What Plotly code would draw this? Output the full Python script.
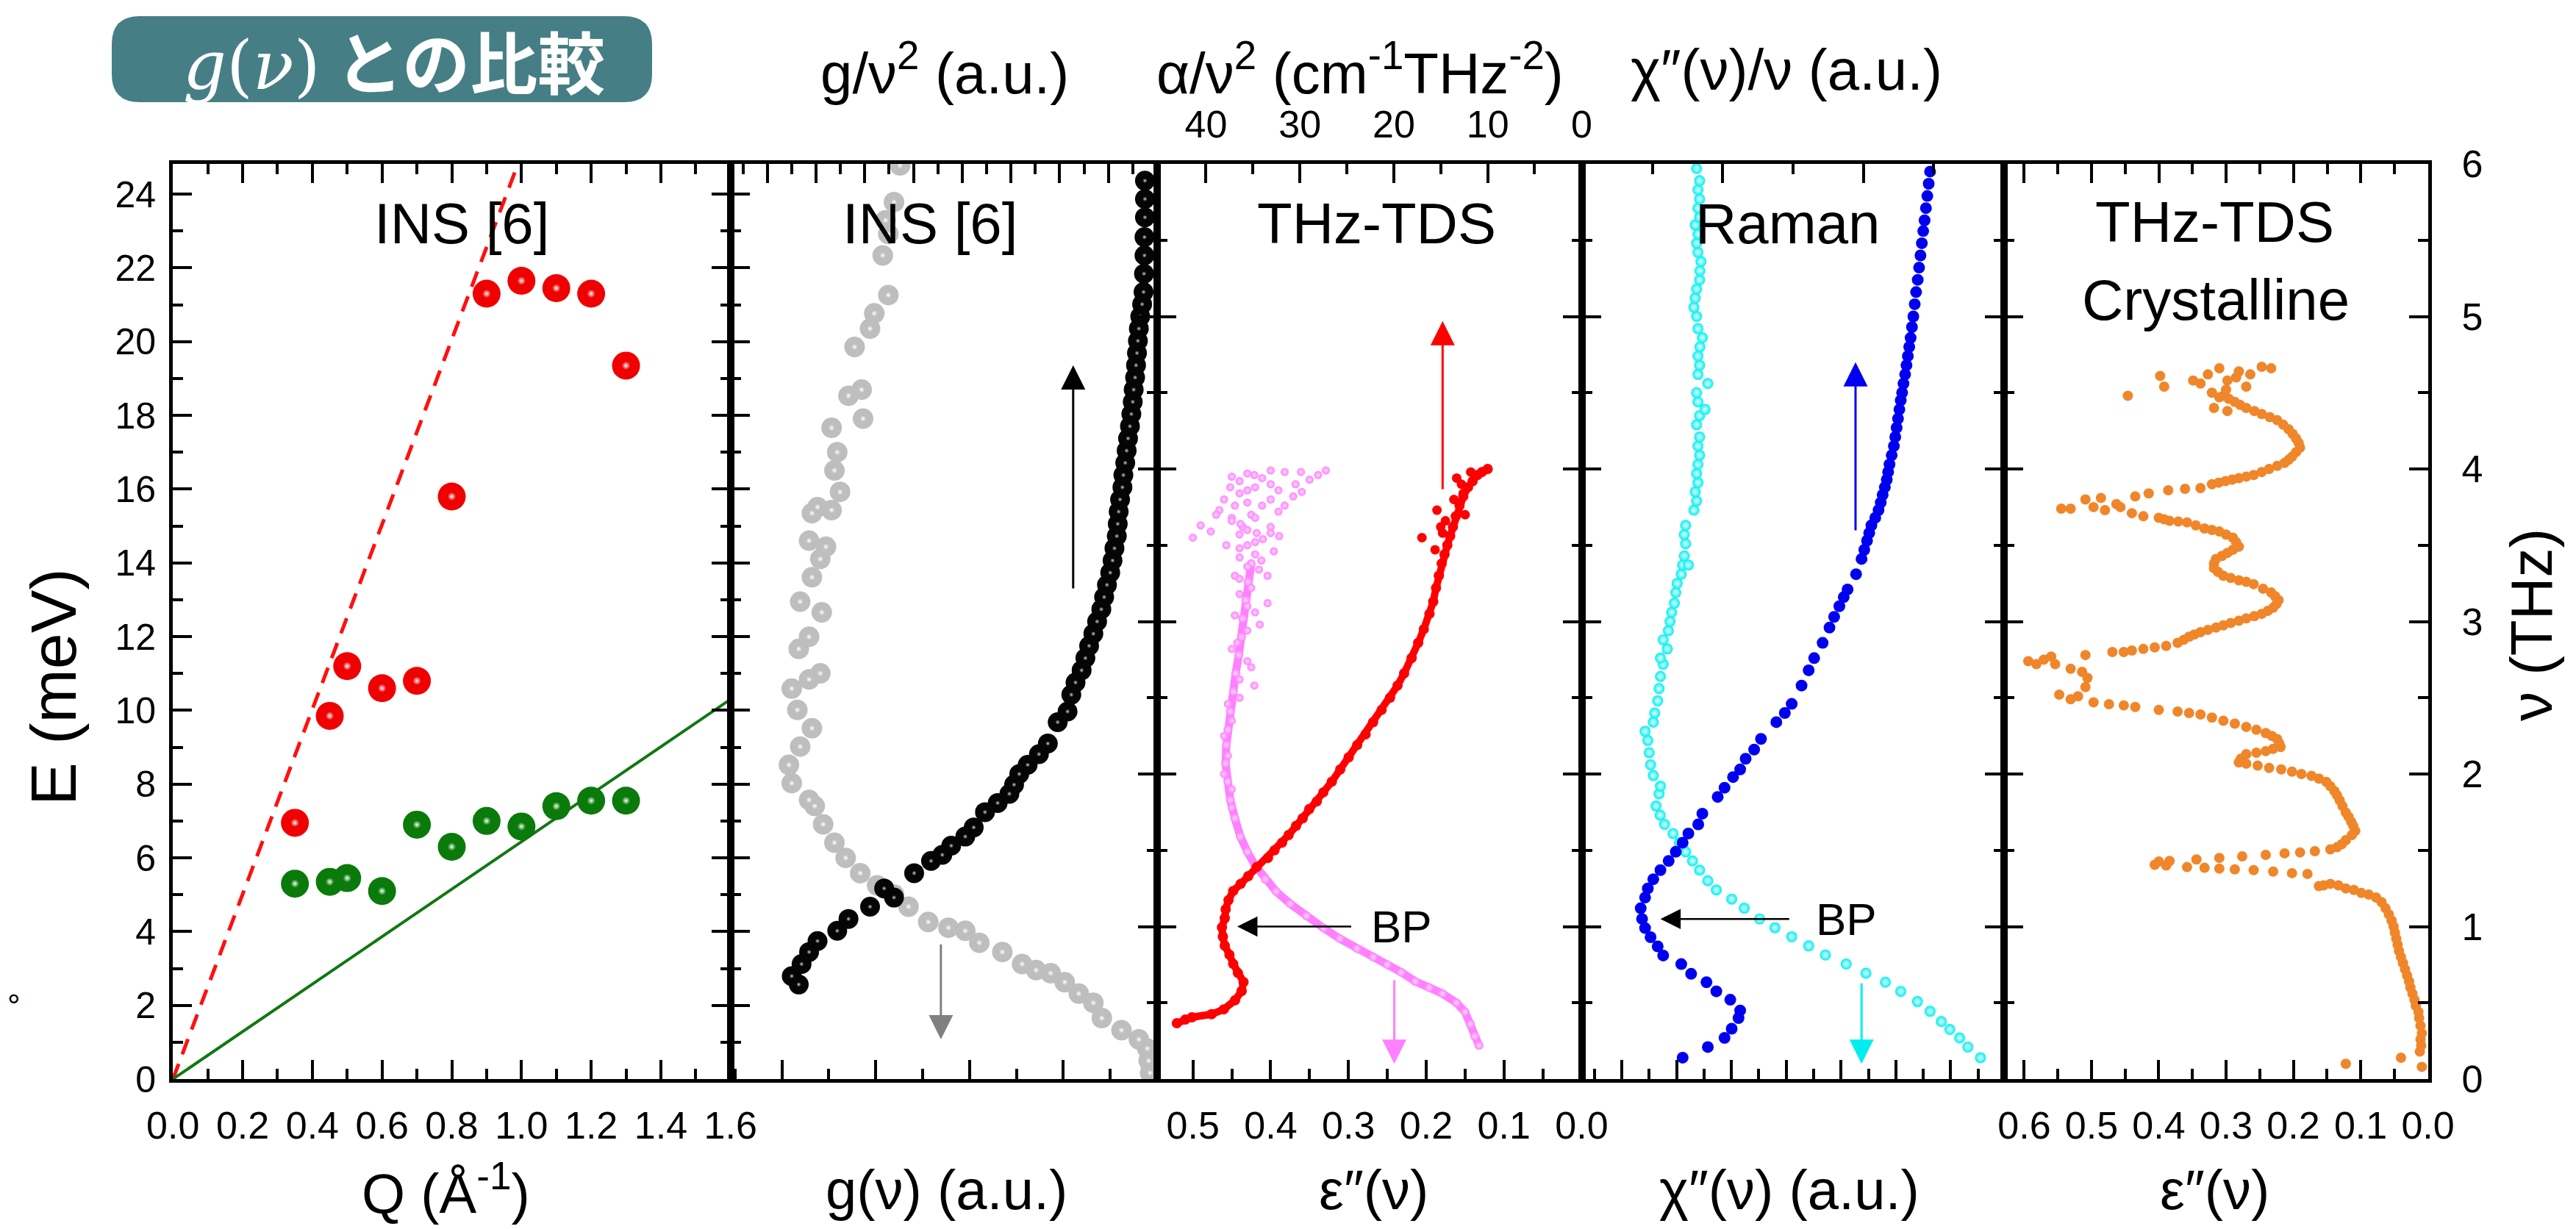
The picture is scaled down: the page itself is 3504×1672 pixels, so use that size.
import plotly.graph_objects as go

W, H = 3504, 1672
FONT = "Liberation Sans, Arial, Helvetica, sans-serif"

# ---------------- data ----------------
# Panel 1 : INS dispersion  (Q in 1/Angstrom, E in meV)
q_ins = [0.35, 0.45, 0.50, 0.60, 0.70, 0.80, 0.90, 1.00, 1.10, 1.20, 1.30]
e_high = [6.95, 9.85, 11.2, 10.6, 10.8, 15.8, 21.3, 21.65, 21.45, 21.3, 19.35]
e_low = [5.3, 5.35, 5.45, 5.1, 6.9, 6.3, 7.0, 6.85, 7.4, 7.55, 7.55]
q_long = [0.0, 0.99]
e_long = [0.0, 24.82]
q_trans = [0.0, 1.6]
e_trans = [0.0, 10.3]

# Panel 2 : INS g(nu)  (nu THz, value in axis units)
black_pts = [(0.62, 7.64), (0.675, 7.79), (0.754, 7.58), (0.833, 7.42), (0.905, 7.24), (0.972, 6.82),
             (1.05, 6.58), (1.13, 6.12), (1.19, 5.61), (1.25, 5.82), (1.35, 5.18), (1.43, 4.82),
             (1.47, 4.58), (1.53, 4.39), (1.59, 4.09), (1.65, 3.91), (1.75, 3.67), (1.81, 3.40),
             (1.87, 3.15), (1.93, 3.05), (2.00, 2.94), (2.06, 2.76), (2.13, 2.52), (2.20, 2.33),
             (2.34, 2.12), (2.41, 1.91), (2.52, 1.83), (2.60, 1.74), (2.68, 1.61), (2.76, 1.53),
             (2.84, 1.45), (2.92, 1.36), (3.00, 1.28), (3.08, 1.19), (3.16, 1.13), (3.24, 1.07),
             (3.32, 1.00), (3.40, 0.95), (3.48, 0.91), (3.56, 0.86), (3.64, 0.84), (3.72, 0.82),
             (3.80, 0.79), (3.88, 0.74), (3.96, 0.72), (4.04, 0.68), (4.12, 0.65), (4.20, 0.62),
             (4.28, 0.58), (4.36, 0.55), (4.44, 0.52), (4.52, 0.50), (4.60, 0.47), (4.68, 0.45),
             (4.76, 0.43), (4.84, 0.41), (4.92, 0.39), (5.00, 0.36), (5.08, 0.32), (5.16, 0.29),
             (5.28, 0.28), (5.40, 0.27), (5.52, 0.27), (5.65, 0.26), (5.77, 0.26), (5.89, 0.26)]
grey_pts = [(0.04, 0.15), (0.12, 0.18), (0.20, 0.21), (0.26, 0.39), (0.32, 0.76), (0.40, 1.18),
            (0.50, 1.36), (0.56, 1.67), (0.635, 1.97), (0.694, 2.27), (0.714, 2.58), (0.754, 2.88),
            (0.833, 3.30), (0.893, 3.79), (0.972, 4.09), (0.992, 4.45), (1.03, 4.88), (1.13, 5.30),
            (1.21, 5.61), (1.27, 5.97), (1.35, 6.33), (1.45, 6.64), (1.55, 6.88), (1.67, 7.12),
            (1.79, 7.30), (1.83, 7.42), (1.94, 7.79), (2.06, 7.85), (2.18, 7.61), (2.30, 7.36),
            (2.42, 7.67), (2.56, 7.79), (2.62, 7.42), (2.66, 7.18), (2.82, 7.64), (2.90, 7.42),
            (3.06, 7.15), (3.13, 7.61), (3.29, 7.36), (3.41, 7.18), (3.49, 7.06), (3.53, 7.42),
            (3.71, 7.36), (3.73, 6.94), (3.75, 7.24), (3.85, 6.76), (3.99, 6.88), (4.11, 6.82),
            (4.27, 6.94), (4.33, 6.27), (4.48, 6.58), (4.52, 6.30), (4.80, 6.45), (4.92, 6.12),
            (5.02, 6.03), (5.14, 5.73), (5.40, 5.85), (5.54, 5.73), (5.63, 5.79), (5.75, 5.61),
            (5.99, 5.48)]

# Panel 3 : THz-TDS  red = alpha/nu^2 (top axis), pink = eps'' (bottom axis)
red_pts = [(0.366, 43.1), (0.39, 42.2), (0.405, 41.5), (0.425, 39.4), (0.457, 38.1), (0.517, 36.9),
           (0.577, 36.2), (0.636, 36.0), (0.696, 36.6), (0.755, 37.1), (0.815, 37.5), (0.875, 38.0),
           (0.934, 38.2), (0.994, 38.3), (1.054, 38.0), (1.113, 37.9), (1.173, 37.6), (1.233, 37.1),
           (1.28, 36.3), (1.33, 35.5), (1.39, 34.6), (1.45, 33.4), (1.50, 32.7), (1.55, 31.9),
           (1.60, 31.2), (1.66, 30.4), (1.71, 29.7), (1.77, 29.0), (1.82, 28.2), (1.88, 27.5),
           (1.95, 26.6), (2.03, 25.7), (2.11, 24.8), (2.19, 23.9), (2.26, 23.0), (2.34, 22.2),
           (2.42, 21.3), (2.50, 20.4), (2.58, 19.6), (2.66, 18.9), (2.76, 18.1), (2.86, 17.4),
           (2.95, 16.8), (3.05, 16.2), (3.13, 15.8), (3.22, 15.5), (3.30, 15.2), (3.38, 14.9),
           (3.44, 14.6), (3.50, 14.3), (3.56, 14.0), (3.62, 13.7), (3.69, 13.4), (3.76, 13.0),
           (3.82, 12.6), (3.88, 12.1), (3.92, 11.6), (3.96, 11.1), (3.98, 10.6), (4.00, 10.0)]
red_scatter = [(3.55, 17.0), (3.73, 15.4), (3.58, 14.8), (3.98, 11.8), (3.94, 13.3), (3.66, 14.5),
               (3.84, 12.6), (3.47, 15.6), (3.70, 12.4), (3.62, 15.0), (3.80, 13.6), (3.90, 12.8)]
pink_pts = [(0.22, 0.132), (0.28, 0.1375), (0.36, 0.143), (0.44, 0.150), (0.50, 0.161), (0.56, 0.179),
            (0.60, 0.196), (0.64, 0.214), (0.70, 0.232), (0.75, 0.250), (0.80, 0.268), (0.855, 0.289),
            (0.92, 0.311), (0.99, 0.332), (1.07, 0.354), (1.15, 0.375), (1.23, 0.393), (1.31, 0.407),
            (1.40, 0.420), (1.49, 0.430), (1.59, 0.439), (1.71, 0.446), (1.83, 0.452), (1.95, 0.455),
            (2.07, 0.458), (2.19, 0.457), (2.29, 0.455), (2.41, 0.452), (2.54, 0.448), (2.66, 0.445),
            (2.78, 0.441), (2.90, 0.4375), (3.02, 0.436), (3.14, 0.432), (3.26, 0.429), (3.38, 0.425)]
pink_scatter = [(3.50, 0.430), (3.58, 0.418), (3.62, 0.436), (3.55, 0.500), (3.59, 0.477), (3.73, 0.466),
                (3.50, 0.457), (3.76, 0.446), (3.64, 0.439), (3.70, 0.425), (3.76, 0.411), (3.62, 0.400),
                (3.56, 0.389), (3.76, 0.382), (3.82, 0.371), (3.96, 0.421), (3.94, 0.411), (3.90, 0.400),
                (3.98, 0.382), (3.90, 0.368), (3.98, 0.361), (3.96, 0.339), (3.99, 0.329), (3.46, 0.396),
                (3.30, 0.446), (3.30, 0.404), (3.12, 0.404), (2.98, 0.414), (3.04, 0.446), (2.86, 0.443),
                (2.58, 0.421), (2.70, 0.425), (3.40, 0.412), (3.86, 0.430), (3.68, 0.450), (3.88, 0.452),
                (3.99, 0.400), (3.97, 0.430), (3.95, 0.450), (3.92, 0.440), (3.88, 0.420), (3.86, 0.390),
                (3.84, 0.440), (3.80, 0.460), (3.78, 0.430), (3.72, 0.390), (3.68, 0.420), (3.66, 0.450),
                (3.60, 0.430), (3.57, 0.440), (3.52, 0.420), (3.48, 0.440), (3.44, 0.420), (3.42, 0.440),
                (3.36, 0.430), (3.34, 0.415), (3.28, 0.440), (3.22, 0.425), (3.18, 0.440), (3.10, 0.430),
                (3.06, 0.420), (2.94, 0.430), (2.82, 0.450), (2.74, 0.430), (2.62, 0.440), (2.50, 0.440),
                (2.46, 0.455), (2.35, 0.450), (2.25, 0.460), (2.12, 0.455), (2.00, 0.460), (1.90, 0.450),
                (1.78, 0.450), (3.93, 0.350), (3.85, 0.360), (3.80, 0.400), (3.70, 0.470), (3.63, 0.490),
                (3.58, 0.400), (3.54, 0.410)]

# Panel 4 : Raman  blue = chi''/nu, cyan = chi''
blue_pts = [(0.14, 3.67), (0.21, 4.59), (0.27, 5.20), (0.33, 5.46), (0.40, 5.71), (0.45, 5.77),
            (0.52, 5.41), (0.575, 4.90), (0.635, 4.54), (0.69, 3.98), (0.754, 3.62), (0.81, 2.96),
            (0.87, 2.76), (0.93, 2.50), (0.99, 2.30), (1.05, 2.19), (1.12, 2.14), (1.19, 2.30),
            (1.25, 2.40), (1.31, 2.60), (1.37, 2.86), (1.43, 3.16), (1.49, 3.42), (1.55, 3.67),
            (1.61, 3.88), (1.67, 4.24), (1.74, 4.39), (1.85, 4.95), (1.91, 5.20), (1.98, 5.51),
            (2.03, 5.77), (2.10, 5.97), (2.16, 6.28), (2.23, 6.53), (2.34, 7.09), (2.40, 7.40),
            (2.46, 7.65), (2.58, 8.01), (2.68, 8.27), (2.76, 8.47), (2.86, 8.78), (2.96, 9.03),
            (3.03, 9.20), (3.10, 9.39), (3.16, 9.55), (3.21, 9.69), (3.31, 10.0), (3.41, 10.2),
            (3.47, 10.3), (3.53, 10.4), (3.58, 10.48), (3.63, 10.56), (3.68, 10.70), (3.73, 10.82),
            (3.78, 10.90), (3.83, 10.97), (3.88, 11.05), (3.93, 11.12), (3.98, 11.17), (4.03, 11.22),
            (4.09, 11.30), (4.15, 11.38), (4.21, 11.43), (4.27, 11.48), (4.33, 11.53), (4.39, 11.58),
            (4.45, 11.63), (4.50, 11.68), (4.56, 11.73), (4.62, 11.79), (4.68, 11.84), (4.74, 11.89),
            (4.80, 11.94), (4.86, 11.99), (4.93, 12.04), (5.00, 12.09), (5.08, 12.14), (5.16, 12.19),
            (5.24, 12.25), (5.32, 12.30), (5.40, 12.35), (5.48, 12.40), (5.56, 12.45), (5.63, 12.50),
            (5.71, 12.55), (5.79, 12.60), (5.87, 12.65), (5.95, 12.70)]
cyan_pts = [(0.14, 14.54), (0.21, 14.08), (0.27, 13.78), (0.325, 13.42), (0.377, 13.11), (0.444, 12.70),
            (0.508, 12.24), (0.575, 11.63), (0.635, 11.07), (0.694, 10.36), (0.754, 9.64), (0.813, 8.88),
            (0.873, 8.27), (0.933, 7.65), (0.992, 7.04), (1.05, 6.48), (1.12, 5.92), (1.18, 5.46),
            (1.24, 4.90), (1.30, 4.59), (1.37, 4.29), (1.43, 4.03), (1.49, 3.78), (1.55, 3.55),
            (1.61, 3.32), (1.67, 3.01), (1.73, 2.85), (1.79, 2.70), (1.87, 2.81), (1.92, 2.86),
            (1.99, 2.60), (2.06, 2.50), (2.14, 2.45), (2.22, 2.40), (2.28, 2.30), (2.34, 2.60),
            (2.40, 2.65), (2.48, 2.76), (2.56, 2.81), (2.64, 2.86), (2.72, 2.96), (2.76, 2.86),
            (2.82, 3.11), (2.88, 2.96), (2.94, 3.15), (3.00, 3.21), (3.06, 3.27), (3.12, 3.37),
            (3.19, 3.42), (3.25, 3.47), (3.31, 3.62), (3.37, 3.67), (3.37, 3.88), (3.43, 3.73),
            (3.51, 3.78), (3.57, 3.73), (3.63, 3.78), (3.73, 4.08), (3.79, 4.18), (3.85, 4.13),
            (3.91, 4.23), (3.97, 4.18), (4.03, 4.23), (4.09, 4.29), (4.15, 4.23), (4.21, 4.29),
            (4.29, 4.18), (4.35, 4.29), (4.39, 4.49), (4.44, 4.23), (4.50, 4.18), (4.56, 4.59),
            (4.62, 4.23), (4.68, 4.29), (4.74, 4.23), (4.80, 4.30), (4.86, 4.39), (4.92, 4.23),
            (5.00, 4.18), (5.06, 4.08), (5.12, 4.13), (5.18, 4.18), (5.24, 4.29), (5.30, 4.30),
            (5.36, 4.34), (5.42, 4.23), (5.48, 4.18), (5.54, 4.23), (5.60, 4.13), (5.65, 4.29),
            (5.71, 4.23), (5.77, 4.29), (5.83, 4.23), (5.89, 4.29), (5.97, 4.18)]

# Panel 5 : THz-TDS crystalline eps''
orange_pts = [(0.08, 0.009), (0.10, 0.122), (0.14, 0.040), (0.18, 0.012), (0.22, 0.010), (0.26, 0.011),
              (0.30, 0.009), (0.35, 0.011), (0.40, 0.013), (0.44, 0.014), (0.48, 0.018), (0.52, 0.020),
              (0.56, 0.023), (0.60, 0.026), (0.64, 0.028), (0.68, 0.031), (0.72, 0.034), (0.76, 0.037),
              (0.80, 0.040), (0.84, 0.043), (0.88, 0.045), (0.92, 0.047), (0.96, 0.049), (1.00, 0.051),
              (1.04, 0.054), (1.08, 0.058), (1.12, 0.063), (1.16, 0.069), (1.19, 0.077), (1.21, 0.088),
              (1.22, 0.099), (1.24, 0.110), (1.25, 0.122), (1.27, 0.133), (1.28, 0.145), (1.27, 0.155),
              (1.265, 0.162),
              (1.345, 0.179), (1.35, 0.202), (1.36, 0.230), (1.37, 0.259), (1.375, 0.287), (1.38, 0.310),
              (1.385, 0.332), (1.39, 0.358), (1.40, 0.389), (1.405, 0.406),
              (1.426, 0.400), (1.43, 0.384), (1.44, 0.344), (1.45, 0.310), (1.46, 0.276), (1.47, 0.241),
              (1.48, 0.213), (1.486, 0.190), (1.494, 0.168), (1.506, 0.145),
              (1.52, 0.135), (1.54, 0.128), (1.566, 0.122), (1.60, 0.113), (1.627, 0.108), (1.66, 0.111),
              (1.687, 0.114), (1.72, 0.118), (1.747, 0.122), (1.79, 0.127), (1.827, 0.131), (1.86, 0.135),
              (1.888, 0.139), (1.92, 0.145), (1.948, 0.151), (1.97, 0.162), (1.988, 0.173), (2.00, 0.188),
              (2.016, 0.202), (2.03, 0.218), (2.04, 0.236), (2.055, 0.253), (2.068, 0.270), (2.076, 0.281),
              (2.10, 0.278), (2.13, 0.270), (2.14, 0.255), (2.15, 0.241), (2.165, 0.230), (2.177, 0.219),
              (2.20, 0.221), (2.229, 0.224), (2.25, 0.232), (2.269, 0.241), (2.29, 0.255), (2.309, 0.270),
              (2.33, 0.287), (2.349, 0.304), (2.37, 0.321), (2.39, 0.338), (2.40, 0.355), (2.41, 0.372),
              (2.42, 0.400), (2.44, 0.435), (2.45, 0.452), (2.458, 0.474), (2.47, 0.497),
              (2.51, 0.520), (2.49, 0.531), (2.52, 0.548), (2.57, 0.509), (2.63, 0.506), (2.67, 0.514),
              (2.69, 0.531), (2.72, 0.554), (2.75, 0.571), (2.74, 0.594), (2.72, 0.582), (2.77, 0.560),
              (2.78, 0.509), (2.80, 0.469), (2.80, 0.452), (2.81, 0.440), (2.82, 0.423), (2.83, 0.406),
              (2.84, 0.389), (2.86, 0.372), (2.88, 0.363), (2.90, 0.355), (2.915, 0.347), (2.93, 0.338),
              (2.945, 0.327), (2.96, 0.315), (2.975, 0.304), (2.99, 0.293), (3.005, 0.281), (3.02, 0.270),
              (3.035, 0.258), (3.05, 0.247), (3.07, 0.238), (3.09, 0.230), (3.115, 0.225), (3.14, 0.222),
              (3.165, 0.227), (3.19, 0.233), (3.215, 0.245), (3.245, 0.259), (3.26, 0.270), (3.27, 0.281),
              (3.285, 0.293), (3.30, 0.304), (3.325, 0.312), (3.35, 0.318), (3.38, 0.318), (3.41, 0.315),
              (3.43, 0.306), (3.45, 0.298), (3.47, 0.290), (3.49, 0.281), (3.52, 0.285), (3.55, 0.290),
              (3.57, 0.300), (3.59, 0.310), (3.60, 0.321), (3.61, 0.332), (3.63, 0.345), (3.65, 0.358),
              (3.655, 0.371), (3.66, 0.384), (3.67, 0.392), (3.68, 0.400), (3.69, 0.423), (3.71, 0.440),
              (3.75, 0.457), (3.73, 0.480), (3.75, 0.497), (3.74, 0.531), (3.74, 0.545), (3.80, 0.509),
              (3.81, 0.486), (3.77, 0.463), (3.82, 0.435), (3.84, 0.415), (3.86, 0.386), (3.87, 0.361),
              (3.875, 0.338), (3.90, 0.321), (3.91, 0.311), (3.92, 0.301), (3.93, 0.291), (3.94, 0.281),
              (3.95, 0.270), (3.96, 0.259), (3.98, 0.247), (4.00, 0.236), (4.02, 0.224), (4.04, 0.213),
              (4.06, 0.207), (4.08, 0.202), (4.11, 0.196), (4.14, 0.190), (4.17, 0.192), (4.20, 0.196),
              (4.23, 0.201), (4.26, 0.207), (4.29, 0.215), (4.32, 0.224), (4.34, 0.235), (4.36, 0.247),
              (4.38, 0.258), (4.40, 0.270), (4.42, 0.279), (4.44, 0.287), (4.46, 0.296), (4.48, 0.304),
              (4.50, 0.321), (4.56, 0.338), (4.58, 0.349), (4.62, 0.327), (4.66, 0.310), (4.58, 0.298),
              (4.64, 0.281), (4.62, 0.264), (4.67, 0.247), (4.66, 0.233), (4.54, 0.270), (4.40, 0.318),
              (4.38, 0.298), (4.61, 0.398), (4.54, 0.392), (4.48, 0.446), (4.52, 0.300), (4.47, 0.310),
              (4.60, 0.285)]

# annotation arrows (x, tail nu, head nu)
arrow_black = (1.79, 3.21, 4.68)
arrow_grey = (4.61, 0.89, 0.26)
arrow_red = (14.8, 3.86, 4.97)
arrow_pink = (0.241, 0.656, 0.10)
arrow_blue = (9.98, 3.59, 4.70)
arrow_cyan = (10.2, 0.635, 0.10)
bp3 = (0.295, 0.443, 1.0, 0.232)   # tail x, head x, nu, text x
bp4 = (7.6, 2.86, 1.05, 9.64)

# ---------------- layout geometry ----------------
X0, X1, X2, X3, X4, X5 = 235, 994, 1574, 2152, 2726, 3303
YT, YB = 223, 1468


def fx(px):
    return px / W


def fy(py):
    return 1 - py / H


ydom = [fy(YB), fy(YT)]

fig = go.Figure()


def unzip(pts):
    return [p[1] for p in pts], [p[0] for p in pts]


def spheres(x, y, xa, ya, color, size, hl, frac=0.26):
    fig.add_trace(go.Scatter(x=x, y=y, xaxis=xa, yaxis=ya, mode='markers', hoverinfo='skip',
                             marker=dict(size=size, color=color, line=dict(width=0))))
    fig.add_trace(go.Scatter(x=x, y=y, xaxis=xa, yaxis=ya, mode='markers', hoverinfo='skip',
                             marker=dict(size=size * frac, color=color, line=dict(width=0),
                                         gradient=dict(type='radial', color=hl))))


def dots(x, y, xa, ya, color, size, hl=None, mode='markers', lw=0):
    m = dict(size=size, color=color, line=dict(width=0))
    if hl:
        m['gradient'] = dict(type='radial', color=hl)
    fig.add_trace(go.Scatter(x=x, y=y, xaxis=xa, yaxis=ya, mode=mode, hoverinfo='skip', marker=m,
                             line=dict(color=color, width=lw)))


# Panel 1
fig.add_trace(go.Scatter(x=q_long, y=e_long, xaxis='x', yaxis='y', mode='lines', hoverinfo='skip',
                         line=dict(color='#ff1010', width=5, dash='22px,14px')))
fig.add_trace(go.Scatter(x=q_trans, y=e_trans, xaxis='x', yaxis='y', mode='lines', hoverinfo='skip',
                         line=dict(color='#117711', width=4)))
spheres(q_ins, e_high, 'x', 'y', '#f00000', 38, 'white', 0.3)
spheres(q_ins, e_low, 'x', 'y', '#0a7a0a', 38, '#f0fff0', 0.3)

# Panel 2
gx, gy = unzip(grey_pts)
bx, by = unzip(black_pts)
spheres(gx, gy, 'x2', 'y2', '#bebebe', 28, 'white', 0.3)
spheres(bx, by, 'x2', 'y2', '#050505', 27, '#cfcfcf', 0.24)

# Panel 3
px_, py_ = unzip(pink_pts)
psx, psy = unzip(pink_scatter)
rx, ry = unzip(red_pts)
rsx, rsy = unzip(red_scatter)
dots(px_, py_, 'x3', 'y3', '#ff80ff', 12, '#ffd8ff', mode='lines+markers', lw=11)
dots(psx, psy, 'x3', 'y3', '#ff80ff', 11, '#ffd8ff')
dots(rx, ry, 'x7', 'y3', '#ff0000', 14, None, mode='lines+markers', lw=10)
dots(rsx, rsy, 'x7', 'y3', '#ff0000', 13)

# Panel 4
cx, cy = unzip(cyan_pts)
blx, bly = unzip(blue_pts)
dots(cx, cy, 'x4', 'y4', '#00eeee', 15, '#e8ffff')
dots(blx, bly, 'x4', 'y4', '#0000f0', 16)

# Panel 5
ox, oy = unzip(orange_pts)
dots(ox, oy, 'x5', 'y5', '#f0862a', 14)

# empty traces so overlay axes are created
for xa, ya in [('x6', 'y2'), ('x2', 'y6'), ('x8', 'y4'), ('x9', 'y5')]:
    fig.add_trace(go.Scatter(x=[], y=[], xaxis=xa, yaxis=ya, mode='markers', hoverinfo='skip'))


def axis(**kw):
    d = dict(showgrid=False, zeroline=False, showline=True, linecolor='black', linewidth=5,
             ticks='inside', tickcolor='black', tickwidth=4, ticklen=26, showticklabels=False,
             tickfont=dict(family=FONT, size=52, color='black'), fixedrange=True, automargin=False)
    d.update(kw)
    return d


def minor(dt, t0=None):
    m = dict(ticks='inside', ticklen=14, tickwidth=4, tickcolor='black', dtick=dt, showgrid=False)
    if t0 is not None:
        m['tick0'] = t0
    return m


layout_axes = dict(
    xaxis=axis(domain=[fx(X0), fx(X1)], anchor='y', range=[-0.0005, 1.6005], tick0=0, dtick=0.2,
               tickformat='.1f', showticklabels=True, minor=minor(0.1), mirror='ticks', ticklabelstandoff=14),
    yaxis=axis(domain=ydom, anchor='x', range=[0, 24.82], tick0=0, dtick=2, showticklabels=True,
               tickfont=dict(family=FONT, size=50, color='black'), minor=minor(1), mirror='ticks',
               ticklabelstandoff=8),
    xaxis2=axis(domain=[fx(X1), fx(X2)], anchor='y2', range=[9.09, 0], tick0=0, dtick=2, minor=minor(1)),
    yaxis2=axis(domain=ydom, anchor='x2', range=[0, 6], side='right', tick0=0, dtick=1, minor=minor(0.5)),
    xaxis6=axis(overlaying='x2', anchor='y2', side='top', range=[17.5, 0], tick0=0, dtick=2, minor=minor(1)),
    yaxis6=axis(overlaying='y2', anchor='x2', side='left', range=[0, 24.82], tick0=0, dtick=2, minor=minor(1)),
    xaxis3=axis(domain=[fx(X2), fx(X3)], anchor='y3', range=[0.546, -0.0005], tick0=0, dtick=0.1,
                tickformat='.1f', showticklabels=True, minor=minor(0.05), ticklabelstandoff=14),
    yaxis3=axis(domain=ydom, anchor='x3', range=[0, 6], tick0=0, dtick=1, minor=minor(0.5), mirror='ticks'),
    xaxis7=axis(overlaying='x3', anchor='y3', side='top', range=[45.2, -0.05], tick0=0, dtick=10,
                minor=minor(5), showticklabels=True, ticklabelstandoff=10),
    xaxis4=axis(domain=[fx(X3), fx(X4)], anchor='y4', range=[0, 15.4], tick0=1.45, dtick=2, minor=minor(1, 0.45)),
    yaxis4=axis(domain=ydom, anchor='x4', range=[0, 6], tick0=0, dtick=1, minor=minor(0.5), mirror='ticks'),
    xaxis8=axis(overlaying='x4', anchor='y4', side='top', range=[0, 6], tick0=0, dtick=2, minor=minor(1)),
    xaxis5=axis(domain=[fx(X4), fx(X5)], anchor='y5', range=[0.63, -0.0005], tick0=0, dtick=0.1,
                tickformat='.1f', showticklabels=True, minor=minor(0.05), ticklabelstandoff=14),
    yaxis5=axis(domain=ydom, anchor='x5', range=[0, 6], side='right', tick0=0, dtick=1, minor=minor(0.5),
                mirror='ticks', showticklabels=True, ticklabelstandoff=30),
    xaxis9=axis(overlaying='x5', anchor='y5', side='top', range=[0.63, 0], tick0=0, dtick=0.1, minor=minor(0.05)),
)

ann = []


def text(px, py, s, size, angle=0, color='black', family=FONT):
    ann.append(dict(x=fx(px), y=fy(py), xref='paper', yref='paper', text=s, showarrow=False,
                    xanchor='center', yanchor='middle', textangle=angle,
                    font=dict(family=family, size=size, color=color)))


# badge title
text(536, 80, "<span style='font-family:DejaVu Serif;font-weight:normal'><i>g</i>(<i>ν</i>)</span>"
              " <b>との比較</b>", 92, color='white', family='Noto Sans CJK JP')
# top titles
text(1285, 95, "g/ν<sup>2</sup> (a.u.)", 78)
text(1850, 95, "α/ν<sup>2</sup> (cm<sup>-1</sup>THz<sup>-2</sup>)", 78)
text(2430, 95, "χ″(ν)/ν (a.u.)", 78)
# bottom titles
text(606, 1618, "Q (Å<sup>-1</sup>)", 76)
text(1287, 1618, "g(ν) (a.u.)", 76)
text(1868, 1618, "ε″(ν)", 76)
text(2434, 1618, "χ″(ν) (a.u.)", 76)
text(3012, 1618, "ε″(ν)", 76)
# side titles
text(72, 935, "E (meV)", 88, angle=-90)
text(3443, 850, "ν (THz)", 80, angle=-90)
# panel titles
text(628, 304, "INS [6]", 78)
text(1265, 304, "INS [6]", 78)
text(1872, 304, "THz-TDS", 78)
text(2431, 304, "Raman", 78)
text(3012, 302, "THz-TDS", 78)
text(3014, 408, "Crystalline", 78)
text(19, 1368, "°", 44)


def arrow(xr, yr, x, y, ax, ay, color, width=3, head=2, size=2.2):
    ann.append(dict(x=x, y=y, ax=ax, ay=ay, xref=xr, yref=yr, axref=xr, ayref=yr, text='',
                    showarrow=True, arrowhead=head, arrowsize=size, arrowwidth=width, arrowcolor=color))


arrow('x2', 'y2', arrow_black[0], arrow_black[2], arrow_black[0], arrow_black[1], 'black')
arrow('x2', 'y2', arrow_grey[0], arrow_grey[2], arrow_grey[0], arrow_grey[1], '#808080')
arrow('x7', 'y3', arrow_red[0], arrow_red[2], arrow_red[0], arrow_red[1], '#ff0000')
arrow('x3', 'y3', arrow_pink[0], arrow_pink[2], arrow_pink[0], arrow_pink[1], '#ff80ff')
arrow('x4', 'y4', arrow_blue[0], arrow_blue[2], arrow_blue[0], arrow_blue[1], '#0000f0')
arrow('x4', 'y4', arrow_cyan[0], arrow_cyan[2], arrow_cyan[0], arrow_cyan[1], '#00eeee')
arrow('x3', 'y3', bp3[1], bp3[2], bp3[0], bp3[2], 'black', width=2.5)
arrow('x4', 'y4', bp4[1], bp4[2], bp4[0], bp4[2], 'black', width=2.5)
ann.append(dict(x=bp3[3], y=bp3[2], xref='x3', yref='y3', text='BP', showarrow=False,
                xanchor='center', yanchor='middle', font=dict(family=FONT, size=62, color='black')))
ann.append(dict(x=bp4[3], y=bp4[2], xref='x4', yref='y4', text='BP', showarrow=False,
                xanchor='center', yanchor='middle', font=dict(family=FONT, size=62, color='black')))

# badge shape (rounded rectangle)
bx0, by0, bx1, by1, br = 152, 22, 887, 139, 38


def P(x, y):
    return f"{fx(x):.5f},{fy(y):.5f}"


badge = (f"M {P(bx0 + br, by0)} L {P(bx1 - br, by0)} Q {P(bx1, by0)} {P(bx1, by0 + br)} "
         f"L {P(bx1, by1 - br)} Q {P(bx1, by1)} {P(bx1 - br, by1)} L {P(bx0 + br, by1)} "
         f"Q {P(bx0, by1)} {P(bx0, by1 - br)} L {P(bx0, by0 + br)} Q {P(bx0, by0)} {P(bx0 + br, by0)} Z")

fig.update_layout(
    template='none',
    width=W, height=H, margin=dict(l=0, r=0, t=0, b=0, pad=0, autoexpand=False),
    paper_bgcolor='white', plot_bgcolor='white', showlegend=False,
    annotations=ann,
    shapes=[dict(type='path', path=badge, xref='paper', yref='paper',
                 fillcolor='#457f85', line=dict(width=0), layer='below')],
    **layout_axes,
)

fig.write_html("out.html", config={'displayModeBar': False})
